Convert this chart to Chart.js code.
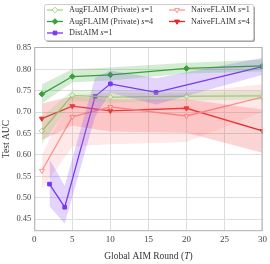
<!DOCTYPE html>
<html>
<head>
<meta charset="utf-8">
<script src="https://cdn.jsdelivr.net/npm/chart.js@4/dist/chart.umd.min.js"></script>
<style>
  html, body { margin: 0; padding: 0; background: #fff; }
  canvas { display: block; }
</style>
</head>
<body>
<canvas id="chart" width="270" height="264"></canvas>
<script>
// rounds
const roundsFL = [1, 5, 10, 20, 30];
const roundsDist = [2, 4, 8, 10, 16, 30];
const yTicks = [0.45, 0.50, 0.55, 0.60, 0.65, 0.70, 0.75, 0.80, 0.85];

// AugFLAIM (Private) s=1
const aug1Mean = [0.656, 0.739, 0.735, 0.737, 0.738];
const aug1Lo   = [0.625, 0.726, 0.722, 0.727, 0.728];
const aug1Hi   = [0.688, 0.752, 0.749, 0.748, 0.749];
// AugFLAIM (Private) s=4
const aug4Mean = [0.742, 0.783, 0.787, 0.802, 0.808];
const aug4Lo   = [0.720, 0.770, 0.774, 0.790, 0.795];
const aug4Hi   = [0.765, 0.800, 0.804, 0.815, 0.822];
// DistAIM s=1
const distMean = [0.532, 0.478, 0.737, 0.766, 0.746, 0.806];
const distLo   = [0.480, 0.440, 0.690, 0.745, 0.718, 0.787];
const distHi   = [0.590, 0.528, 0.780, 0.797, 0.779, 0.827];
// NaiveFLAIM s=1
const naive1Mean = [0.563, 0.689, 0.712, 0.691, 0.735];
const naive1Lo   = [0.520, 0.620, 0.625, 0.630, 0.700];
const naive1Hi   = [0.600, 0.740, 0.745, 0.745, 0.765];
// NaiveFLAIM s=4
const naive4Mean = [0.685, 0.714, 0.703, 0.709, 0.656];
const naive4Lo   = [0.635, 0.668, 0.655, 0.652, 0.605];
const naive4Hi   = [0.720, 0.737, 0.730, 0.730, 0.706];

const pts = (xs, ys) => xs.map((x, i) => ({x: x, y: ys[i]}));

const series = [
  {name: 'AugFLAIM (Private) ', s: '1', xs: roundsFL, mean: aug1Mean, lo: aug1Lo, hi: aug1Hi,
   color: '#9ed98a', band: 'rgba(120,200,100,0.2)', style: 'rectRot', rot: 0, open: true},
  {name: 'AugFLAIM (Private) ', s: '4', xs: roundsFL, mean: aug4Mean, lo: aug4Lo, hi: aug4Hi,
   color: '#35a035', band: 'rgba(60,170,60,0.22)', style: 'rectRot', rot: 0, open: false},
  {name: 'DistAIM ', s: '1', xs: roundsDist, mean: distMean, lo: distLo, hi: distHi,
   color: '#7a36f5', band: 'rgba(125,60,240,0.22)', style: 'rect', rot: 0, open: false},
  {name: 'NaiveFLAIM ', s: '1', xs: roundsFL, mean: naive1Mean, lo: naive1Lo, hi: naive1Hi,
   color: '#ff9594', band: 'rgba(255,140,140,0.2)', style: 'triangle', rot: 180, open: true},
  {name: 'NaiveFLAIM ', s: '4', xs: roundsFL, mean: naive4Mean, lo: naive4Lo, hi: naive4Hi,
   color: '#e8262a', band: 'rgba(235,40,40,0.2)', style: 'triangle', rot: 180, open: false}
];

const datasets = [];
series.forEach(s => {
  datasets.push({data: pts(s.xs, s.hi), borderWidth: 0, pointRadius: 0, fill: false, isBand: true});
  datasets.push({data: pts(s.xs, s.lo), borderWidth: 0, pointRadius: 0, fill: '-1',
    backgroundColor: s.band, isBand: true});
});
series.forEach(s => {
  datasets.push({
    label: s.name + 's=' + s.s,
    data: pts(s.xs, s.mean),
    borderColor: s.color,
    borderWidth: 1.3,
    pointStyle: s.style,
    pointRotation: s.rot,
    pointRadius: s.style === 'rect' ? 2.6 : 2.8,
    pointBorderWidth: 1,
    pointBorderColor: s.color,
    pointBackgroundColor: s.open ? '#ffffff' : s.color,
    fill: false,
    tension: 0
  });
});

const serif = "'Liberation Serif', 'DejaVu Serif', serif";

const frameAndLegend = {
  id: 'frameAndLegend',
  afterDraw(chart) {
    const ctx = chart.ctx;
    const a = chart.chartArea;
    ctx.save();
    ctx.strokeStyle = '#b0b0b0';
    ctx.lineWidth = 1;
    ctx.strokeRect(a.left + 0.5, a.top + 0.5, a.right - a.left - 1, a.bottom - a.top - 1);

    // legend box
    const bx = 44, by = 4, bw = 209, bh = 36;
    ctx.fillStyle = 'rgba(0,0,0,0.35)';
    ctx.beginPath();
    ctx.roundRect(bx + 2, by + 2, bw, bh, 2);
    ctx.fill();
    ctx.fillStyle = '#ffffff';
    ctx.strokeStyle = '#cccccc';
    ctx.beginPath();
    ctx.roundRect(bx + 0.5, by + 0.5, bw, bh, 2);
    ctx.fill();
    ctx.stroke();

    const slots = [[47, 10], [47, 21.5], [47, 33], [169, 10], [169, 21.5]];
    series.forEach((s, i) => {
      const [x, y] = slots[i];
      ctx.strokeStyle = s.color;
      ctx.lineWidth = 1.3;
      ctx.beginPath();
      ctx.moveTo(x, y);
      ctx.lineTo(x + 16, y);
      ctx.stroke();
      ctx.fillStyle = s.open ? '#ffffff' : s.color;
      ctx.strokeStyle = s.color;
      ctx.lineWidth = 1;
      Chart.helpers.drawPoint(ctx, {pointStyle: s.style, radius: s.style === 'rect' ? 2.6 : 2.8,
        rotation: s.rot, borderWidth: 1}, x + 8, y);
      ctx.fillStyle = '#333333';
      ctx.textBaseline = 'middle';
      ctx.font = '8.2px ' + serif;
      let tx = x + 22;
      ctx.fillText(s.name, tx, y);
      tx += ctx.measureText(s.name).width;
      ctx.font = 'italic 8.2px ' + serif;
      ctx.fillText('s', tx, y);
      tx += ctx.measureText('s').width;
      ctx.font = '8.2px ' + serif;
      ctx.fillText('=' + s.s, tx, y);
    });

    // x title with italic T
    const parts = [['Global AIM Round (', ''], ['T', 'italic '], [')', '']];
    let total = 0;
    parts.forEach(p => { ctx.font = p[1] + '9.5px ' + serif; total += ctx.measureText(p[0]).width; });
    let px = (a.left + a.right) / 2 - total / 2;
    ctx.fillStyle = '#333333';
    ctx.textBaseline = 'middle';
    parts.forEach(p => {
      ctx.font = p[1] + '9.5px ' + serif;
      ctx.fillText(p[0], px, 256);
      px += ctx.measureText(p[0]).width;
    });
    ctx.restore();
  }
};

new Chart(document.getElementById('chart'), {
  type: 'line',
  data: {datasets: datasets},
  options: {
    responsive: false,
    animation: false,
    devicePixelRatio: 1,
    layout: {padding: {top: 47, right: 7, bottom: 16, left: 0}},
    plugins: {
      legend: {display: false},
      tooltip: {enabled: false},
      filler: {propagate: false}
    },
    scales: {
      x: {
        type: 'linear',
        min: 0,
        max: 30,
        ticks: {stepSize: 5, color: '#444', font: {family: serif, size: 9}, padding: 3},
        grid: {color: '#dddddd', lineWidth: 1, drawTicks: false},
        border: {display: false}
      },
      y: {
        min: 0.422,
        max: 0.852,
        afterBuildTicks: axis => { axis.ticks = yTicks.map(v => ({value: v})); },
        ticks: {color: '#444', font: {family: serif, size: 8.5}, padding: 3,
          callback: v => v.toFixed(2)},
        grid: {color: '#dddddd', lineWidth: 1, drawTicks: false},
        border: {display: false},
        title: {display: true, text: 'Test AUC', color: '#333', font: {family: serif, size: 9.5}, padding: 1}
      }
    }
  },
  plugins: [frameAndLegend]
});
</script>
</body>
</html>
